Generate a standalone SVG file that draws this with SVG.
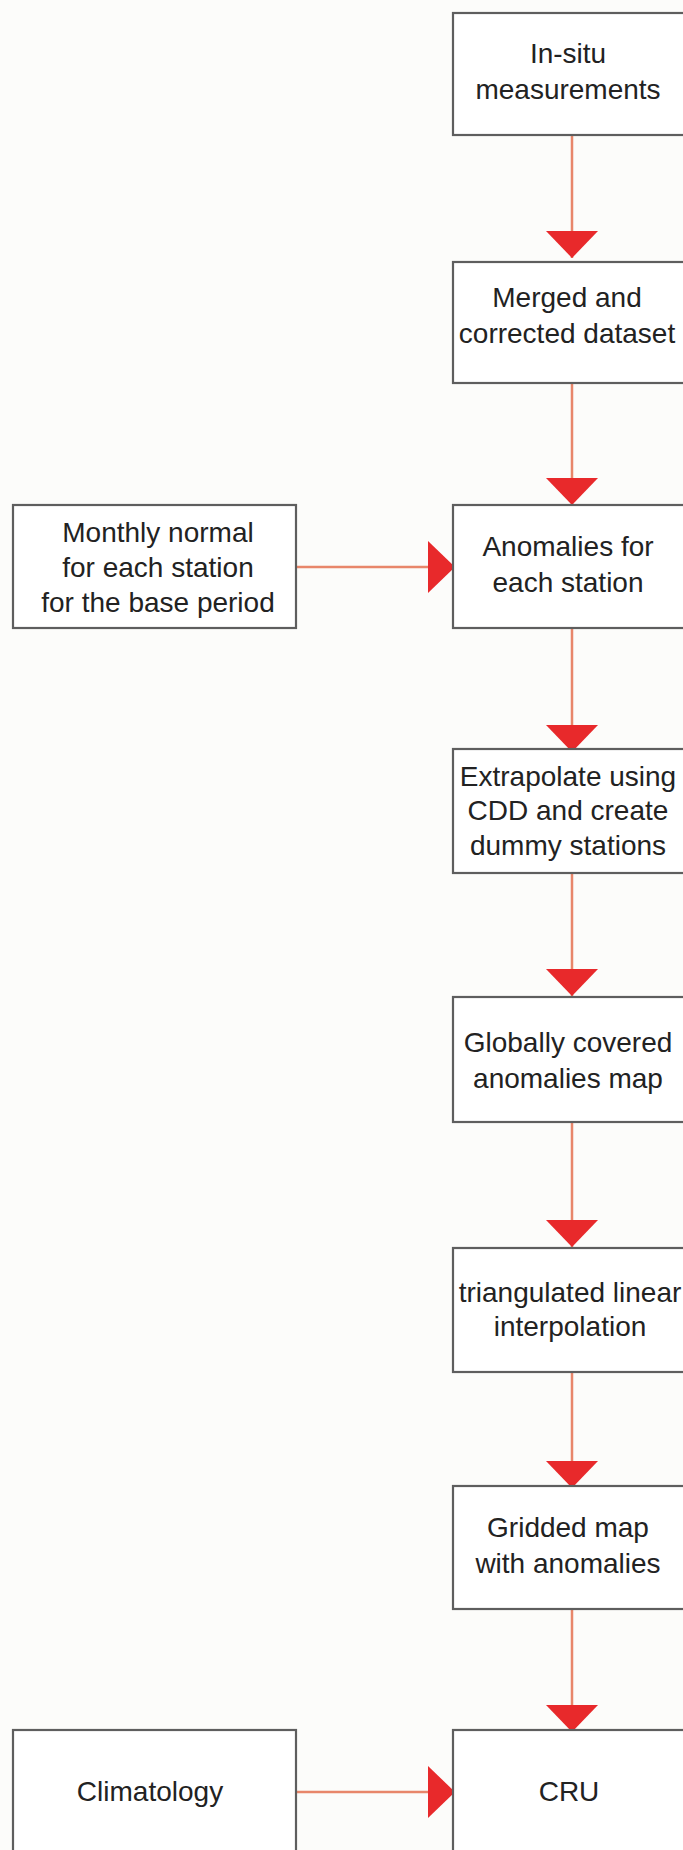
<svg xmlns="http://www.w3.org/2000/svg" width="683" height="1850" viewBox="0 0 683 1850">
<style>
.box{fill:#ffffff;stroke:#5e5e5e;stroke-width:2.2}
.lbl{font-family:"Liberation Sans",Arial,sans-serif;font-size:28px;fill:#222;text-anchor:middle}
.con{stroke:#e8866a;stroke-width:2.5;fill:none}
</style>
<defs>
<marker id="head" viewBox="0 0 27 52" refX="27" refY="26" markerWidth="27" markerHeight="52" markerUnits="userSpaceOnUse" orient="auto">
<path d="M0,0 L27,26 L0,52 Z" fill="#e8292b"/>
</marker>
</defs>
<rect width="683" height="1850" fill="#fcfcfa"/>
<g id="connectors">
<line class="con" x1="572" y1="135" x2="572" y2="258" marker-end="url(#head)"/>
<line class="con" x1="572" y1="383" x2="572" y2="505" marker-end="url(#head)"/>
<line class="con" x1="572" y1="628" x2="572" y2="752" marker-end="url(#head)"/>
<line class="con" x1="572" y1="873" x2="572" y2="996" marker-end="url(#head)"/>
<line class="con" x1="572" y1="1122" x2="572" y2="1247" marker-end="url(#head)"/>
<line class="con" x1="572" y1="1372" x2="572" y2="1488" marker-end="url(#head)"/>
<line class="con" x1="572" y1="1609" x2="572" y2="1732" marker-end="url(#head)"/>
<line class="con" x1="296" y1="567" x2="455" y2="567" marker-end="url(#head)"/>
<line class="con" x1="296" y1="1792" x2="455" y2="1792" marker-end="url(#head)"/>
</g>
<g id="insitu">
<rect class="box" x="453" y="13" width="260" height="122"/>
<text class="lbl" x="568" y="63">In-situ</text>
<text class="lbl" x="568" y="99">measurements</text>
</g>
<g id="merged">
<rect class="box" x="453" y="262" width="260" height="121"/>
<text class="lbl" x="567" y="307">Merged and</text>
<text class="lbl" x="567" y="343">corrected dataset</text>
</g>
<g id="monthly">
<rect class="box" x="13" y="505" width="283" height="123"/>
<text class="lbl" x="158" y="542">Monthly normal</text>
<text class="lbl" x="158" y="577">for each station</text>
<text class="lbl" x="158" y="612">for the base period</text>
</g>
<g id="anomalies">
<rect class="box" x="453" y="505" width="260" height="123"/>
<text class="lbl" x="568" y="556">Anomalies for</text>
<text class="lbl" x="568" y="592">each station</text>
</g>
<g id="extrapolate">
<rect class="box" x="453" y="749" width="260" height="124"/>
<text class="lbl" x="568" y="786">Extrapolate using</text>
<text class="lbl" x="568" y="820">CDD and create</text>
<text class="lbl" x="568" y="855">dummy stations</text>
</g>
<g id="globally">
<rect class="box" x="453" y="997" width="260" height="125"/>
<text class="lbl" x="568" y="1052">Globally covered</text>
<text class="lbl" x="568" y="1088">anomalies map</text>
</g>
<g id="triangulated">
<rect class="box" x="453" y="1248" width="260" height="124"/>
<text class="lbl" x="570" y="1302">triangulated linear</text>
<text class="lbl" x="570" y="1336">interpolation</text>
</g>
<g id="gridded">
<rect class="box" x="453" y="1486" width="260" height="123"/>
<text class="lbl" x="568" y="1537">Gridded map</text>
<text class="lbl" x="568" y="1573">with anomalies</text>
</g>
<g id="climatology">
<rect class="box" x="13" y="1730" width="283" height="140"/>
<text class="lbl" x="150" y="1801">Climatology</text>
</g>
<g id="cru">
<rect class="box" x="453" y="1730" width="260" height="140"/>
<text class="lbl" x="569" y="1801">CRU</text>
</g>
</svg>
